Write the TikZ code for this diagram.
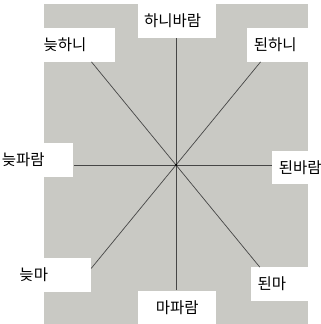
\documentclass[tikz,border=0pt]{standalone}
\usepackage{fontspec}
\usepackage{tikz}
\usetikzlibrary{positioning}
\newfontfamily\kofont{Noto Sans CJK KR}
\definecolor{WindGray}{RGB}{201,201,196}
\definecolor{WindLine}{RGB}{70,70,70}
\tikzset{
  wind/frame/.style={
    fill=WindGray,
    draw=none,
    minimum width=264pt,
    minimum height=322pt,
    inner sep=0pt
  },
  wind/ray/.style={draw=WindLine, line width=0.7pt},
  wind/hub/.style={circle, fill=black, inner sep=0pt, minimum size=2.5pt},
  wind/box/.style={
    fill=white,
    draw=none,
    minimum height=33.4pt,
    text width=65pt,
    inner xsep=6.5pt,
    inner ysep=0pt,
    align=left,
    font=\kofont\fontsize{15.5}{17}\selectfont
  }
}

\begin{document}
\begin{tikzpicture}[x=1pt,y=1pt]
  \useasboundingbox (0,0) rectangle (321,324);
  \node[wind/frame] (frame) at (176,159) {};
  \coordinate (o) at (frame.center);
  \node[wind/box] (n) at (176.7,303) {하니바람};
  \node[wind/box] (ne) at (286.3,279) {된하니};
  \node[wind/box] (nw) at (76,279) {늦하니};
  \node[wind/box] (w) at (34.3,164) {늦파람};
  \node[wind/box] (e) at (311.3,156.6) {된바람};
  \node[wind/box] (sw) at (52,49) {늦마};
  \node[wind/box] (se) at (290,40) {된마};
  \node[wind/box,align=center] (s) at (177.3,16.6) {마파람};
  % rays stop where they meet the label boxes
  \draw[wind/ray] (o) -- (o |- n.south);
  \draw[wind/ray] (o) -- (o |- s.north);
  \draw[wind/ray] (o) -- (o -| w.east);
  \draw[wind/ray] (o) -- (o -| e.west);
  \draw[wind/ray] (o) -- (intersection of o--frame.north west and nw.south west--nw.south east);
  \draw[wind/ray] (o) -- (intersection of o--frame.north east and ne.south west--ne.south east);
  \draw[wind/ray] (o) -- (intersection of o--frame.south west and sw.north east--sw.south east);
  \draw[wind/ray] (o) -- (intersection of o--frame.south east and se.north west--se.north east);
  \node[wind/hub] (hub) at (o) {};
\end{tikzpicture}
\end{document}
